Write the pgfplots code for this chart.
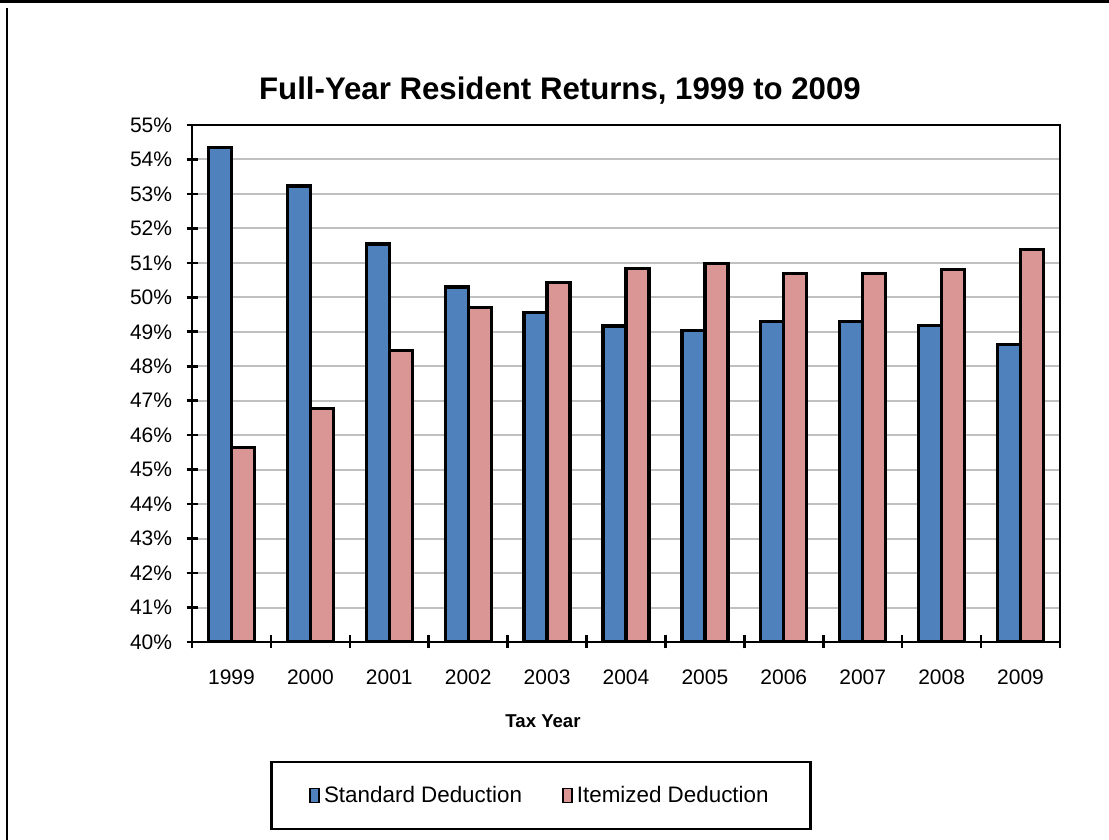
\documentclass[border=0pt]{standalone}
\usepackage{pgfplots}
\pgfplotsset{compat=1.18}
\usepackage{fontspec}
\setmainfont{Liberation Sans}
\definecolor{stdblue}{HTML}{4F81BD}
\definecolor{itmpink}{HTML}{D99694}
\definecolor{gridgray}{HTML}{C0C0C0}
\begin{document}
\begin{tikzpicture}[x=0.5pt,y=0.5pt]
\useasboundingbox (0,0) rectangle (1109,840);
\draw[line width=1.2pt] (0,838.5) -- (1109,838.5);
\draw[line width=1.2pt] (7,0) -- (7,832);
\node[font=\bfseries\fontsize{15.6}{18}\selectfont] at (560,749) {Full-Year Resident Returns, 1999 to 2009};
\node[font=\bfseries\fontsize{9.3}{11}\selectfont] at (543,119) {Tax Year};
\begin{axis}[
  at={(96pt,99pt)}, anchor=south west,
  width=434pt, height=258.5pt, scale only axis,
  xmin=-0.5, xmax=10.5, ymin=40, ymax=55,
  ybar=0pt, bar width=11.5pt,
  xtick={0,...,10},
  xticklabels={1999,2000,2001,2002,2003,2004,2005,2006,2007,2008,2009},
  minor xtick={-0.5,0.5,...,10.5},
  ytick={40,...,55},
  yticklabels={40\%,41\%,42\%,43\%,44\%,45\%,46\%,47\%,48\%,49\%,50\%,51\%,52\%,53\%,54\%,55\%},
  xtick pos=bottom, ytick pos=left,
  tick align=center, major tick length=5.5pt, minor tick length=6.5pt,
  major x tick style={draw=none},
  minor x tick style={draw=black, line width=1.3pt},
  tick style={black, line width=1.3pt},
  ymajorgrids, major grid style={gridgray, line width=1pt},
  axis line style={line width=1.4pt},
  every tick label/.append style={font=\fontsize{10.5}{12}\selectfont},
  yticklabel style={anchor=east, inner sep=0pt, xshift=-7pt},
  xticklabel style={anchor=north, inner sep=0pt, yshift=-11pt},
  legend columns=2,
  legend style={at={(0.402,-0.297)}, anchor=center, draw=black, line width=1.3pt,
    inner xsep=19pt, inner ysep=10pt,
    font=\fontsize{11.2}{13}\selectfont,
    /tikz/every even column/.append style={column sep=18pt}},
  legend image code/.code={\draw[#1, line width=0.9pt] (0pt,-3.5pt) rectangle (4.5pt,3.5pt);},
]
\addplot[fill=stdblue, draw=black, line width=1.6pt] coordinates {
 (0,54.35) (1,53.23) (2,51.55) (3,50.30) (4,49.56) (5,49.17) (6,49.03) (7,49.30) (8,49.30) (9,49.19) (10,48.62)};
\addplot[fill=itmpink, draw=black, line width=1.6pt] coordinates {
 (0,45.65) (1,46.77) (2,48.45) (3,49.70) (4,50.44) (5,50.83) (6,50.97) (7,50.70) (8,50.70) (9,50.81) (10,51.38)};
\legend{Standard Deduction, Itemized Deduction}
\end{axis}
\end{tikzpicture}
\end{document}
